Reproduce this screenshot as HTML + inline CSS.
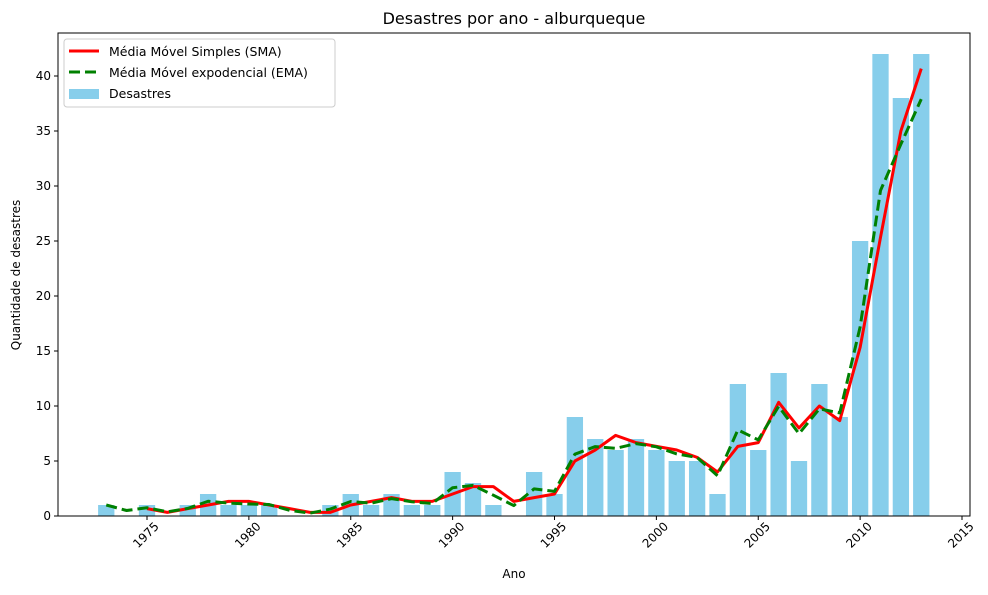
<!DOCTYPE html>
<html><head><meta charset="utf-8"><style>
body{margin:0;background:#fff;}
text{font-family:"DejaVu Sans","Liberation Sans",sans-serif;}
</style></head><body>
<svg id="chart" width="988" height="590" xmlns="http://www.w3.org/2000/svg"></svg>
<script>
const years=[1973,1974,1975,1976,1977,1978,1979,1980,1981,1982,1983,1984,1985,1986,1987,1988,1989,1990,1991,1992,1993,1994,1995,1996,1997,1998,1999,2000,2001,2002,2003,2004,2005,2006,2007,2008,2009,2010,2011,2012,2013];
const disasters=[1,0,1,0,1,2,1,1,1,0,0,1,2,1,2,1,1,4,3,1,0,4,2,9,7,6,7,6,5,5,2,12,6,13,5,12,9,25,42,38,42];
const smaValues=[null,null,0.67,0.33,0.67,1,1.33,1.33,1,0.67,0.33,0.33,1,1.33,1.67,1.33,1.33,2,2.67,2.67,1.33,1.67,2,5,6,7.33,6.67,6.33,6,5.33,4,6.33,6.67,10.33,8,10,8.67,15.33,25.33,35,40.67];
const emaValues=[1,0.5,0.75,0.38,0.69,1.34,1.17,1.09,1.04,0.52,0.26,0.63,1.32,1.16,1.58,1.29,1.14,2.57,2.79,1.89,0.95,2.47,2.24,5.62,6.31,6.15,6.58,6.29,5.64,5.32,3.66,7.83,6.92,9.96,7.48,9.74,9.37,17.18,29.59,33.8,37.9];
const xTicks=[1975,1980,1985,1990,1995,2000,2005,2010,2015];
const yTicks=[0,5,10,15,20,25,30,35,40];

const svg=document.getElementById('chart');
const NS='http://www.w3.org/2000/svg';
const L=58,R=970,T=33,B=516;
const xs=y=>147+(y-1975)*20.375;
const ys=v=>B-v*11;
function el(tag,attrs,parent){const e=document.createElementNS(NS,tag);for(const k in attrs)e.setAttribute(k,attrs[k]);(parent||svg).appendChild(e);return e;}

let t=el('text',{x:514,y:24,'text-anchor':'middle','font-size':16,fill:'#000'});t.textContent='Desastres por ano - alburqueque';



years.forEach((yr,i)=>{
  if(!disasters[i])return;
  const r=el('rect',{x:xs(yr)-8.15,y:ys(disasters[i]),width:16.3,height:disasters[i]*11,fill:'#87ceeb'});
  
  
});
function line(vals,attrs,name){
  const pts=[];years.forEach((yr,i)=>{if(vals[i]!=null)pts.push(xs(yr)+','+ys(vals[i]));});
  const p=el('polyline',Object.assign({points:pts.join(' '),fill:'none','stroke-linejoin':'round'},attrs));
  
  
}
line(smaValues,{stroke:'#ff0000','stroke-width':3},'sma-line');
line(emaValues,{stroke:'#008000','stroke-width':3,'stroke-dasharray':'11,5'},'ema-line');

const frame=el('rect',{x:L,y:T,width:R-L,height:B-T,fill:'none',stroke:'#000','stroke-width':1});



xTicks.forEach(v=>{
  const x=xs(v);
  el('line',{x1:x,x2:x,y1:B,y2:B+4,stroke:'#000'});
  const cx=x-1,cy=B+19;
  const tx=el('text',{x:cx,y:cy+4,'text-anchor':'middle','font-size':12,transform:`rotate(-45 ${cx} ${cy})`});
  tx.textContent=v;
  
  
});
yTicks.forEach(v=>{
  const y=ys(v);
  el('line',{x1:L-4,x2:L,y1:y,y2:y,stroke:'#000'});
  const ty=el('text',{x:L-7,y:y+4,'text-anchor':'end','font-size':12});
  ty.textContent=v;
  
  
});
t=el('text',{x:514,y:578,'text-anchor':'middle','font-size':12});t.textContent='Ano';


t=el('text',{x:20,y:275,'text-anchor':'middle','font-size':12,transform:'rotate(-90 20 275)'});t.textContent='Quantidade de desastres';



const lg=el('g',{});


el('rect',{x:64,y:39,width:271,height:68,rx:3,fill:'#fff','fill-opacity':0.8,stroke:'#ccc'},lg);
el('line',{x1:69,x2:99,y1:51,y2:51,stroke:'#ff0000','stroke-width':3},lg);
el('line',{x1:69,x2:99,y1:72,y2:72,stroke:'#008000','stroke-width':3,'stroke-dasharray':'11,5'},lg);
el('rect',{x:69,y:89,width:30,height:10,fill:'#87ceeb'},lg);
[['Média Móvel Simples (SMA)',56],['Média Móvel expodencial (EMA)',77],['Desastres',98]].forEach(([s,y])=>{
  const e=el('text',{x:109,y:y,'font-size':12.5},lg);e.textContent=s;
  
  
});
</script>
</body></html>
